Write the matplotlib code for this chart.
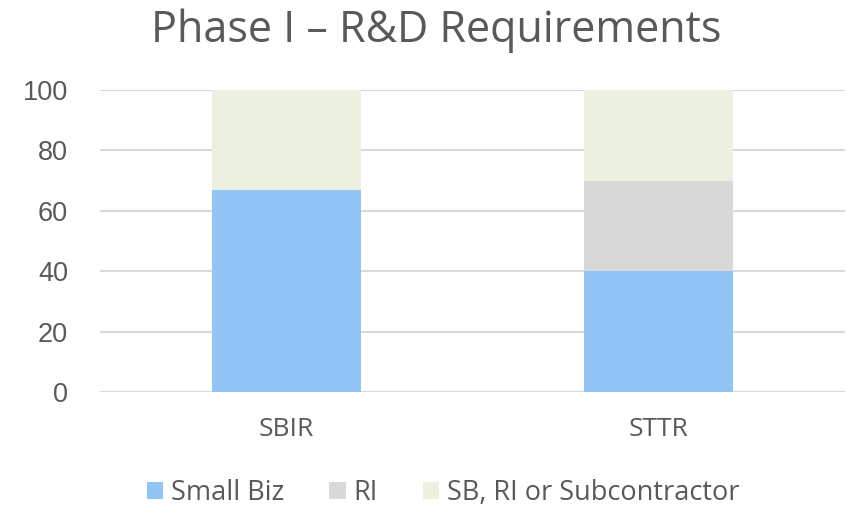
import matplotlib.pyplot as plt
import numpy as np

# data
categories = ["SBIR", "STTR"]
small_biz = [67, 40]
ri = [0, 30]
sb_ri_sub = [33, 30]
series_names = ["Small Biz", "RI", "SB, RI or Subcontractor"]
colors = ["#92C5F5", "#D9D9D9", "#EBF1DE"]
yticks = [0, 20, 40, 60, 80, 100]

text_color = "#595959"

fig = plt.figure(figsize=(8.46, 5.09), dpi=100)
ax = fig.add_axes([100 / 846, 1 - 392 / 509, 745 / 846, 302 / 509])

x = np.arange(len(categories))
bottom = np.zeros(len(categories))
for vals, name, c in zip([small_biz, ri, sb_ri_sub], series_names, colors):
    ax.bar(x, vals, width=0.4, bottom=bottom, color=c, label=name, zorder=2)
    bottom += np.array(vals)

ax.set_xlim(-0.5, 1.5)
ax.set_ylim(0, 100)
ax.set_yticks(yticks)
ax.set_xticks(x)
ax.set_xticklabels(categories, fontsize=19, color=text_color, family="Open Sans")
for t in ax.get_yticklabels():
    t.set_fontsize(19.5)
    t.set_color(text_color)
    t.set_family("Liberation Sans")
ax.tick_params(axis="both", length=0)
ax.tick_params(axis="x", pad=18)
ax.tick_params(axis="y", pad=23)
ax.yaxis.grid(True, color="#D9D9D9", linewidth=1.5, zorder=0)
for s in ax.spines.values():
    s.set_visible(False)

fig.text(0.515, 0.94, "Phase I \u2013 R&D Requirements", ha="center", va="center",
         fontsize=31, color=text_color, family="Open Sans")

leg = fig.legend(loc="center", bbox_to_anchor=(0.524, 0.031), ncol=3, frameon=False,
                 prop={"family": "Open Sans", "size": 19.5},
                 handlelength=0.6, handleheight=0.6, columnspacing=1.65, handletextpad=0.3)
for t in leg.get_texts():
    t.set_color(text_color)

fig.savefig("out.png", dpi=100)
